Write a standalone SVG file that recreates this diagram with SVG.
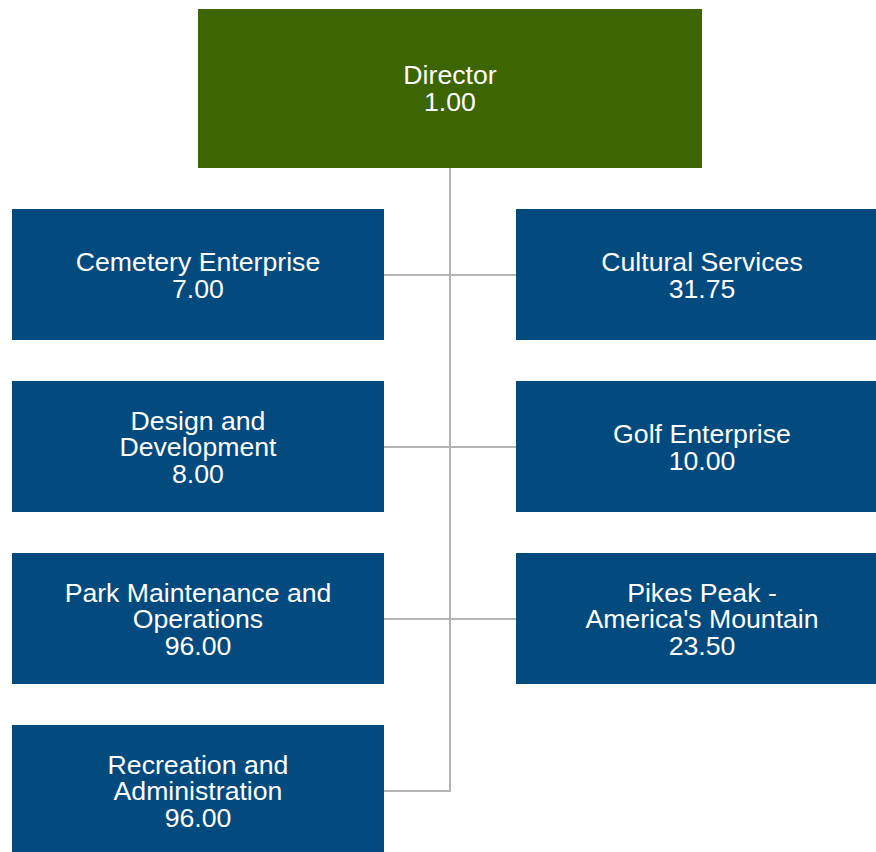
<svg xmlns="http://www.w3.org/2000/svg" width="876" height="852" viewBox="0 0 876 852">
<style>
.box{fill:#034a7f}
.top{fill:#3d6603}
.t{font-family:"Liberation Sans",Arial,sans-serif;font-size:26.67px;fill:#ffffff;text-anchor:middle}
.c{stroke:#b4b4b4;stroke-width:2;fill:none}
</style>
<rect width="876" height="852" fill="#ffffff"/>
<g id="connectors">
<path class="c" d="M450 168V791H384"/>
<path class="c" d="M384 275H516"/>
<path class="c" d="M384 447H516"/>
<path class="c" d="M384 619H516"/>
</g>
<g id="director">
<rect class="top" x="198" y="9" width="504" height="159"/>
<text class="t" x="450" y="84"><tspan x="450">Director</tspan><tspan x="450" dy="26.5">1.00</tspan></text>
</g>
<g id="cemetery">
<rect class="box" x="12" y="209" width="372" height="131"/>
<text class="t" x="198" y="271"><tspan x="198">Cemetery Enterprise</tspan><tspan x="198" dy="26.5">7.00</tspan></text>
</g>
<g id="cultural">
<rect class="box" x="516" y="209" width="372" height="131"/>
<text class="t" x="702" y="271"><tspan x="702">Cultural Services</tspan><tspan x="702" dy="26.5">31.75</tspan></text>
</g>
<g id="design">
<rect class="box" x="12" y="381" width="372" height="131"/>
<text class="t" x="198" y="429.5"><tspan x="198">Design and</tspan><tspan x="198" dy="26.5">Development</tspan><tspan x="198" dy="26.5">8.00</tspan></text>
</g>
<g id="golf">
<rect class="box" x="516" y="381" width="372" height="131"/>
<text class="t" x="702" y="443"><tspan x="702">Golf Enterprise</tspan><tspan x="702" dy="26.5">10.00</tspan></text>
</g>
<g id="park">
<rect class="box" x="12" y="553" width="372" height="131"/>
<text class="t" x="198" y="601.5"><tspan x="198">Park Maintenance and</tspan><tspan x="198" dy="26.5">Operations</tspan><tspan x="198" dy="26.5">96.00</tspan></text>
</g>
<g id="pikes">
<rect class="box" x="516" y="553" width="372" height="131"/>
<text class="t" x="702" y="601.5"><tspan x="702">Pikes Peak -</tspan><tspan x="702" dy="26.5">America's Mountain</tspan><tspan x="702" dy="26.5">23.50</tspan></text>
</g>
<g id="recreation">
<rect class="box" x="12" y="725" width="372" height="131"/>
<text class="t" x="198" y="773.5"><tspan x="198">Recreation and</tspan><tspan x="198" dy="26.5">Administration</tspan><tspan x="198" dy="26.5">96.00</tspan></text>
</g>
</svg>
